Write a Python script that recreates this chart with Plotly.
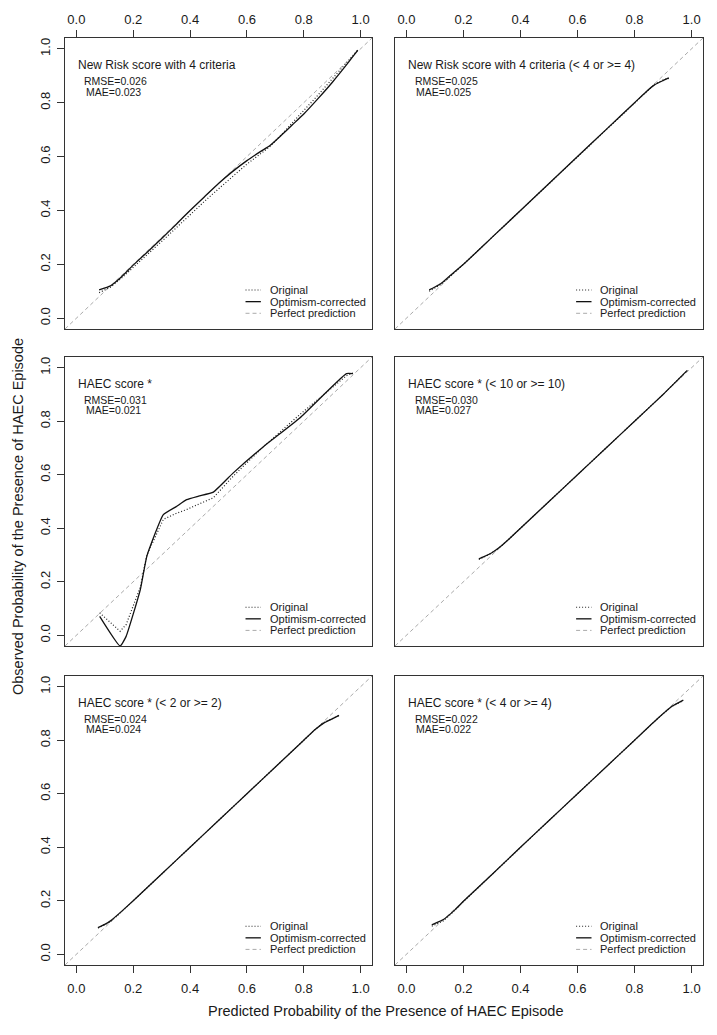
import plotly.graph_objects as go

# ---------------- data ----------------
titles = [
    "New Risk score with 4 criteria",
    "New Risk score with 4 criteria (< 4 or >= 4)",
    "HAEC score *",
    "HAEC score * (< 10 or >= 10)",
    "HAEC score * (< 2 or >= 2)",
    "HAEC score * (< 4 or >= 4)",
]
rmse_vals = ["0.026", "0.025", "0.031", "0.030", "0.024", "0.022"]
mae_vals = ["0.023", "0.025", "0.021", "0.027", "0.024", "0.022"]

p1_pred = [0.08, 0.12, 0.16, 0.20, 0.25, 0.30, 0.35, 0.40, 0.45, 0.50, 0.55, 0.60, 0.65, 0.68, 0.72, 0.76, 0.80, 0.85, 0.90, 0.95, 0.99]
p1_orig = [0.095, 0.115, 0.150, 0.190, 0.237, 0.285, 0.335, 0.385, 0.433, 0.480, 0.527, 0.572, 0.612, 0.636, 0.680, 0.725, 0.770, 0.828, 0.888, 0.948, 0.995]
p1_corr = [0.105, 0.120, 0.155, 0.197, 0.246, 0.296, 0.347, 0.400, 0.450, 0.500, 0.545, 0.585, 0.620, 0.640, 0.678, 0.718, 0.758, 0.815, 0.875, 0.940, 0.995]

p2_pred = [0.08, 0.10, 0.12, 0.15, 0.20, 0.30, 0.40, 0.50, 0.60, 0.70, 0.80, 0.84, 0.87, 0.90, 0.92]
p2_orig = [0.100, 0.112, 0.125, 0.152, 0.200, 0.300, 0.400, 0.500, 0.600, 0.700, 0.800, 0.840, 0.868, 0.884, 0.890]
p2_corr = [0.105, 0.116, 0.128, 0.155, 0.200, 0.300, 0.400, 0.500, 0.600, 0.700, 0.800, 0.840, 0.866, 0.882, 0.892]

p3_pred = [0.082, 0.154, 0.175, 0.225, 0.248, 0.306, 0.350, 0.388, 0.430, 0.482, 0.552, 0.657, 0.786, 0.950, 0.973]
p3_orig = [0.084, 0.015, 0.040, 0.180, 0.300, 0.433, 0.455, 0.470, 0.490, 0.514, 0.595, 0.704, 0.825, 0.970, 0.980]
p3_corr = [0.071, -0.040, -0.004, 0.171, 0.296, 0.451, 0.480, 0.507, 0.520, 0.535, 0.607, 0.704, 0.812, 0.978, 0.978]

p4_pred = [0.254, 0.27, 0.29, 0.31, 0.33, 0.36, 0.40, 0.50, 0.60, 0.70, 0.80, 0.90, 0.985]
p4_orig = [0.283, 0.291, 0.302, 0.315, 0.331, 0.360, 0.400, 0.500, 0.600, 0.700, 0.800, 0.900, 0.990]
p4_corr = [0.286, 0.293, 0.303, 0.316, 0.332, 0.360, 0.400, 0.500, 0.600, 0.700, 0.800, 0.900, 0.990]

p5_pred = [0.076, 0.10, 0.12, 0.15, 0.20, 0.30, 0.40, 0.50, 0.60, 0.70, 0.80, 0.84, 0.87, 0.90, 0.924]
p5_orig = [0.098, 0.110, 0.122, 0.150, 0.200, 0.300, 0.400, 0.500, 0.600, 0.700, 0.800, 0.840, 0.866, 0.882, 0.892]
p5_corr = [0.100, 0.112, 0.125, 0.152, 0.200, 0.300, 0.400, 0.500, 0.600, 0.700, 0.800, 0.840, 0.864, 0.880, 0.893]

p6_pred = [0.089, 0.11, 0.13, 0.17, 0.20, 0.30, 0.40, 0.50, 0.60, 0.70, 0.80, 0.88, 0.93, 0.971]
p6_orig = [0.105, 0.115, 0.125, 0.165, 0.197, 0.298, 0.400, 0.500, 0.600, 0.700, 0.800, 0.880, 0.926, 0.948]
p6_corr = [0.110, 0.120, 0.130, 0.166, 0.198, 0.298, 0.400, 0.500, 0.600, 0.700, 0.800, 0.880, 0.926, 0.950]

tick_vals = [0.0, 0.2, 0.4, 0.6, 0.8, 1.0]
tick_text = ["0.0", "0.2", "0.4", "0.6", "0.8", "1.0"]
legend_labels = ["Original", "Optimism-corrected", "Perfect prediction"]
axis_range = [-0.04, 1.04]

x_title = "Predicted Probability of the Presence of HAEC Episode"
y_title = "Observed Probability of the Presence of HAEC Episode"

panels = [
    (p1_pred, p1_orig, p1_corr),
    (p2_pred, p2_orig, p2_corr),
    (p3_pred, p3_orig, p3_corr),
    (p4_pred, p4_orig, p4_corr),
    (p5_pred, p5_orig, p5_corr),
    (p6_pred, p6_orig, p6_corr),
]

# ---------------- layout geometry (page pixels; page body has 8px margin) ----------------
OFF = 8
W, H = 717 - 2 * OFF, 1035 - 2 * OFF
col_px = [(65, 372), (395, 703)]
row_px = [(38, 329), (357, 646), (676, 965)]


def px_x(v):
    return (v - OFF) / W


def px_y(v):
    return 1 - (v - OFF) / H


FONT = "Liberation Sans, Arial, sans-serif"
TXT = "#1a1a1a"
DOT_COLOR = "#222222"
SOLID_COLOR = "#111111"
DASH_COLOR = "#aaaaaa"
FRAME = "#333333"

fig = go.Figure()
layout = dict(
    width=W, height=H,
    margin=dict(l=0, r=0, t=0, b=0),
    paper_bgcolor="white", plot_bgcolor="white",
    showlegend=False,
    font=dict(family=FONT, color=TXT, size=12),
)
annotations = []
shapes = []

for i, (pred, orig, corr) in enumerate(panels):
    r, c = divmod(i, 2)
    n = i + 1
    xa = "x" if n == 1 else f"x{n}"
    ya = "y" if n == 1 else f"y{n}"
    xkey = "xaxis" if n == 1 else f"xaxis{n}"
    ykey = "yaxis" if n == 1 else f"yaxis{n}"

    x0, x1 = col_px[c]
    y0, y1 = row_px[r]
    xdom = [px_x(x0), px_x(x1)]
    ydom = [px_y(y1), px_y(y0)]

    fig.add_trace(go.Scatter(x=axis_range, y=axis_range, mode="lines", xaxis=xa, yaxis=ya,
                             line=dict(color=DASH_COLOR, width=1, dash="4px,3px"),
                             hoverinfo="skip"))
    fig.add_trace(go.Scatter(x=pred, y=orig, mode="lines", xaxis=xa, yaxis=ya,
                             line=dict(color=DOT_COLOR, width=1.2, dash="1px,2px"),
                             name=legend_labels[0]))
    fig.add_trace(go.Scatter(x=pred, y=corr, mode="lines", xaxis=xa, yaxis=ya,
                             line=dict(color=SOLID_COLOR, width=1.3, shape="spline", smoothing=0.4),
                             name=legend_labels[1]))

    if r == 0:
        xticks = dict(ticks="outside", showticklabels=True, side="top", ticklabelstandoff=1)
    elif r == 2:
        xticks = dict(ticks="outside", showticklabels=True, side="bottom", ticklabelstandoff=4)
    else:
        xticks = dict(ticks="", showticklabels=False)
    layout[xkey] = dict(
        domain=xdom, range=axis_range, anchor=ya,
        showgrid=False, zeroline=False, showline=True, mirror=True,
        linecolor=FRAME, linewidth=1,
        tickvals=tick_vals, ticktext=tick_text, ticklen=7, tickcolor=FRAME,
        tickfont=dict(size=13, family=FONT, color=TXT),
        **xticks,
    )
    if c == 0:
        yticks = dict(ticks="outside", showticklabels=True, tickangle=-90, ticklabelstandoff=2)
    else:
        yticks = dict(ticks="", showticklabels=False)
    layout[ykey] = dict(
        domain=ydom, range=axis_range, anchor=xa,
        showgrid=False, zeroline=False, showline=True, mirror=True,
        linecolor=FRAME, linewidth=1,
        tickvals=tick_vals, ticktext=tick_text, ticklen=7, tickcolor=FRAME,
        tickfont=dict(size=13, family=FONT, color=TXT),
        **yticks,
    )

    xref = f"{xa} domain"
    yref = f"{ya} domain"
    annotations.append(dict(text=titles[i], x=0.036, y=0.908, xref=xref, yref=yref,
                            xanchor="left", yanchor="middle", showarrow=False,
                            font=dict(size=12, family=FONT, color=TXT)))
    annotations.append(dict(text=f"RMSE={rmse_vals[i]}", x=0.057, y=0.852, xref=xref, yref=yref,
                            xanchor="left", yanchor="middle", showarrow=False,
                            font=dict(size=10.5, family=FONT, color=TXT)))
    annotations.append(dict(text=f"MAE={mae_vals[i]}", x=0.061, y=0.815, xref=xref, yref=yref,
                            xanchor="left", yanchor="middle", showarrow=False,
                            font=dict(size=10.5, family=FONT, color=TXT)))

    leg_y = [0.134, 0.094, 0.054]
    leg_styles = [
        dict(color=DOT_COLOR, width=1.2, dash="1px,2px"),
        dict(color=SOLID_COLOR, width=1.3),
        dict(color=DASH_COLOR, width=1, dash="4px,3px"),
    ]
    for k in range(3):
        shapes.append(dict(type="line", xref=xref, yref=yref,
                           x0=0.588, x1=0.638, y0=leg_y[k], y1=leg_y[k],
                           line=leg_styles[k]))
        annotations.append(dict(text=legend_labels[k], x=0.660, y=leg_y[k], xref=xref, yref=yref,
                                xanchor="left", yanchor="middle", showarrow=False,
                                font=dict(size=11, family=FONT, color=TXT)))

annotations.append(dict(text=x_title, x=px_x(385), y=px_y(1011), xref="paper", yref="paper",
                        xanchor="center", yanchor="middle", showarrow=False,
                        font=dict(size=14.5, family=FONT, color=TXT)))
annotations.append(dict(text=y_title, x=px_x(18), y=px_y(517), xref="paper", yref="paper",
                        xanchor="center", yanchor="middle", showarrow=False, textangle=-90,
                        font=dict(size=14.5, family=FONT, color=TXT)))

layout["annotations"] = annotations
layout["shapes"] = shapes
fig.update_layout(**layout)
fig.write_html("out.html")
